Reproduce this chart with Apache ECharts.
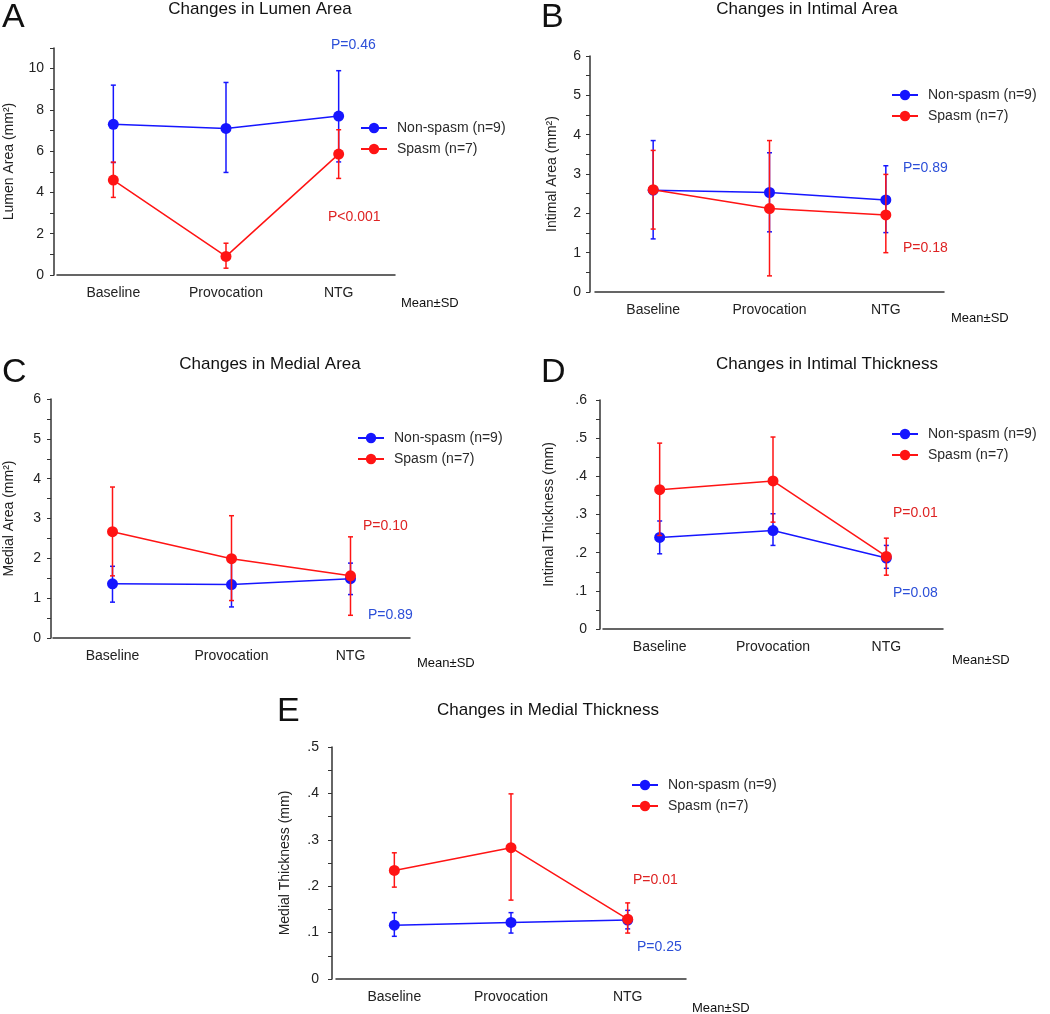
<!DOCTYPE html>
<html>
<head>
<meta charset="utf-8">
<script src="https://cdn.jsdelivr.net/npm/echarts@6/dist/echarts.min.js"></script>
<style>html,body{margin:0;padding:0;background:#fff}#c{width:1050px;height:1014px}</style>
</head>
<body>
<div id="c"></div>
<script>
// ---------- data ----------
const categories = ['Baseline', 'Provocation', 'NTG'];
const groupNames = ['Non-spasm (n=9)', 'Spasm (n=7)'];

// A: Lumen Area (mm2)
const lumenNonMean  = [7.3, 7.1, 7.7];
const lumenNonUpper = [9.2, 9.33, 9.9];
const lumenNonLower = [5.45, 4.97, 5.48];
const lumenSpMean   = [4.6, 0.9, 5.86];
const lumenSpUpper  = [5.47, 1.54, 7.04];
const lumenSpLower  = [3.76, 0.33, 4.68];

// B: Intimal Area (mm2)
const intAreaNonMean  = [2.59, 2.53, 2.34];
const intAreaNonUpper = [3.85, 3.54, 3.21];
const intAreaNonLower = [1.35, 1.53, 1.51];
const intAreaSpMean   = [2.6, 2.12, 1.96];
const intAreaSpUpper  = [3.6, 3.85, 2.99];
const intAreaSpLower  = [1.6, 0.41, 1.0];

// C: Medial Area (mm2)
const medAreaNonMean  = [1.36, 1.34, 1.49];
const medAreaNonUpper = [1.8, 1.9, 1.88];
const medAreaNonLower = [0.9, 0.78, 1.09];
const medAreaSpMean   = [2.67, 1.99, 1.56];
const medAreaSpUpper  = [3.79, 3.07, 2.54];
const medAreaSpLower  = [1.56, 0.94, 0.57];

// D: Intimal Thickness (mm)
const intThNonMean  = [0.24, 0.258, 0.186];
const intThNonUpper = [0.283, 0.302, 0.219];
const intThNonLower = [0.197, 0.219, 0.159];
const intThSpMean   = [0.365, 0.388, 0.19];
const intThSpUpper  = [0.487, 0.503, 0.238];
const intThSpLower  = [0.245, 0.28, 0.141];

// E: Medial Thickness (mm)
const medThNonMean  = [0.116, 0.122, 0.127];
const medThNonUpper = [0.143, 0.143, 0.148];
const medThNonLower = [0.092, 0.099, 0.108];
const medThSpMean   = [0.234, 0.283, 0.129];
const medThSpUpper  = [0.272, 0.399, 0.164];
const medThSpLower  = [0.198, 0.17, 0.099];

// P values
const pLumen   = ['P=0.46', 'P<0.001'];
const pIntArea = ['P=0.89', 'P=0.18'];
const pMedArea = ['P=0.89', 'P=0.10'];
const pIntTh   = ['P=0.08', 'P=0.01'];
const pMedTh   = ['P=0.25', 'P=0.01'];

// ---------- styling / layout ----------
const BLUE = '#1616ff', RED = '#ff1414';
const BLUE_TXT = '#2c4fd8', RED_TXT = '#de2323';
const FONT = '"Liberation Sans", Arial, sans-serif';
const TXT = '#222';

const panels = [
  { letter:'A', title:'Changes in Lumen Area', yName:'Lumen Area (mm²)',
    grid:{left:57, top:48, width:338, height:227}, max:11, step:1, major:2, yOff:3, nameGap:38, lblMargin:10,
    non:[lumenNonMean, lumenNonUpper, lumenNonLower], sp:[lumenSpMean, lumenSpUpper, lumenSpLower],
    letterPos:[2,18], titlePos:[260,9], meanPos:[401,303], legendPos:[360,121],
    p:pLumen, pBluePos:[331,45], pRedPos:[328,217] },
  { letter:'B', title:'Changes in Intimal Area', yName:'Intimal Area (mm²)',
    grid:{left:595, top:56, width:349, height:236}, max:6, step:0.5, major:1, yOff:5, nameGap:31, lblMargin:9,
    non:[intAreaNonMean, intAreaNonUpper, intAreaNonLower], sp:[intAreaSpMean, intAreaSpUpper, intAreaSpLower],
    letterPos:[541,18], titlePos:[807,9], meanPos:[951,318], legendPos:[891,88],
    p:pIntArea, pBluePos:[903,168], pRedPos:[903,248] },
  { letter:'C', title:'Changes in Medial Area', yName:'Medial Area (mm²)',
    grid:{left:53, top:399, width:357, height:239}, max:6, step:0.5, major:1, yOff:2, nameGap:35, lblMargin:10,
    non:[medAreaNonMean, medAreaNonUpper, medAreaNonLower], sp:[medAreaSpMean, medAreaSpUpper, medAreaSpLower],
    letterPos:[2,373], titlePos:[270,364], meanPos:[417,663], legendPos:[357,431],
    p:pMedArea, pBluePos:[368,615], pRedPos:[363,526] },
  { letter:'D', title:'Changes in Intimal Thickness', yName:'Intimal Thickness (mm)',
    grid:{left:603, top:400, width:340, height:229}, max:0.6, step:0.05, major:0.1, yOff:3, nameGap:44, lblMargin:13,
    non:[intThNonMean, intThNonUpper, intThNonLower], sp:[intThSpMean, intThSpUpper, intThSpLower],
    letterPos:[541,373], titlePos:[827,364], meanPos:[952,660], legendPos:[891,427],
    p:pIntTh, pBluePos:[893,593], pRedPos:[893,513] },
  { letter:'E', title:'Changes in Medial Thickness', yName:'Medial Thickness (mm)',
    grid:{left:336, top:747, width:350, height:232}, max:0.5, step:0.05, major:0.1, yOff:4, nameGap:40, lblMargin:13,
    non:[medThNonMean, medThNonUpper, medThNonLower], sp:[medThSpMean, medThSpUpper, medThSpLower],
    letterPos:[277,712], titlePos:[548,710], meanPos:[692,1008], legendPos:[631,778],
    p:pMedTh, pBluePos:[637,947], pRedPos:[633,880] }
];

function errRender(color) {
  return function (params, api) {
    const x = api.value(0);
    const lo = api.coord([x, api.value(1)]);
    const hi = api.coord([x, api.value(2)]);
    const w = 2.5;
    const st = { stroke: color, lineWidth: 1.5 };
    return { type: 'group', children: [
      { type: 'line', shape: { x1: lo[0], y1: lo[1], x2: hi[0], y2: hi[1] }, style: st },
      { type: 'line', shape: { x1: lo[0] - w, y1: lo[1], x2: lo[0] + w, y2: lo[1] }, style: st },
      { type: 'line', shape: { x1: hi[0] - w, y1: hi[1], x2: hi[0] + w, y2: hi[1] }, style: st }
    ]};
  };
}

const option = {
  animation: false,
  textStyle: { fontFamily: FONT },
  grid: [], xAxis: [], yAxis: [], series: [], legend: [], graphic: []
};

panels.forEach((p, i) => {
  option.grid.push(Object.assign({ containLabel: false }, p.grid));
  option.xAxis.push({
    gridIndex: i, type: 'category', data: categories, boundaryGap: true,
    axisLine: { lineStyle: { color: '#333', width: 1.5 } },
    axisTick: { alignWithLabel: true, length: 3, lineStyle: { color: '#333' } },
    axisLabel: { fontSize: 14, color: TXT, margin: 11, fontFamily: FONT }
  });
  option.yAxis.push({
    gridIndex: i, type: 'value', min: 0, max: p.max, interval: p.step, offset: p.yOff,
    axisLine: { show: true, lineStyle: { color: '#333', width: 1.5 } },
    axisTick: { show: true, length: 4, lineStyle: { color: '#333' } },
    splitLine: { show: false },
    axisLabel: {
      fontSize: 14, color: TXT, margin: p.lblMargin, fontFamily: FONT,
      formatter: function (v) {
        const r = v / p.major;
        if (Math.abs(r - Math.round(r)) > 1e-6) return '';
        const s = String(Math.round(v * 1000) / 1000);
        return s.replace(/^0\./, '.');
      }
    },
    name: p.yName, nameLocation: 'middle', nameGap: p.nameGap,
    nameTextStyle: { fontSize: 14, color: TXT, fontFamily: FONT }
  });
  const groups = [[p.non, BLUE, groupNames[0], 2], [p.sp, RED, groupNames[1], 3]];
  groups.forEach(([d, color, name, z]) => {
    option.series.push({
      type: 'custom', name: name + ' SD', xAxisIndex: i, yAxisIndex: i, z: z,
      renderItem: errRender(color),
      encode: { x: 0, y: [1, 2] },
      data: categories.map((c, k) => [k, d[2][k], d[1][k]])
    });
    option.series.push({
      type: 'line', name: name, xAxisIndex: i, yAxisIndex: i, z: z,
      data: d[0], symbol: 'circle', symbolSize: 11, color: color,
      itemStyle: { color: color }, lineStyle: { color: color, width: 1.5 }
    });
  });
  option.legend.push({
    data: groupNames, orient: 'vertical', left: p.legendPos[0], top: p.legendPos[1],
    padding: 0, itemWidth: 26, itemHeight: 13, itemGap: 7, selectedMode: false,
    textStyle: { fontSize: 14, color: '#2a2a2a', fontFamily: FONT, padding: [0, 0, 0, 5] }
  });
  option.graphic.push(
    { type: 'text', left: p.letterPos[0], top: p.letterPos[1] - 17,
      style: { text: p.letter, font: '34px ' + FONT, fill: '#111' } },
    { type: 'text', x: p.titlePos[0], y: p.titlePos[1],
      style: { text: p.title, font: '17px ' + FONT, fill: '#111', align: 'center', verticalAlign: 'middle' } },
    { type: 'text', x: p.meanPos[0], y: p.meanPos[1],
      style: { text: 'Mean±SD', font: '13px ' + FONT, fill: '#111', align: 'left', verticalAlign: 'middle' } },
    { type: 'text', x: p.pBluePos[0], y: p.pBluePos[1],
      style: { text: p.p[0], font: '14px ' + FONT, fill: BLUE_TXT, align: 'left', verticalAlign: 'middle' } },
    { type: 'text', x: p.pRedPos[0], y: p.pRedPos[1],
      style: { text: p.p[1], font: '14px ' + FONT, fill: RED_TXT, align: 'left', verticalAlign: 'middle' } }
  );
});

const chart = echarts.init(document.getElementById('c'), null, { renderer: 'canvas' });
chart.setOption(option);
</script>
</body>
</html>
